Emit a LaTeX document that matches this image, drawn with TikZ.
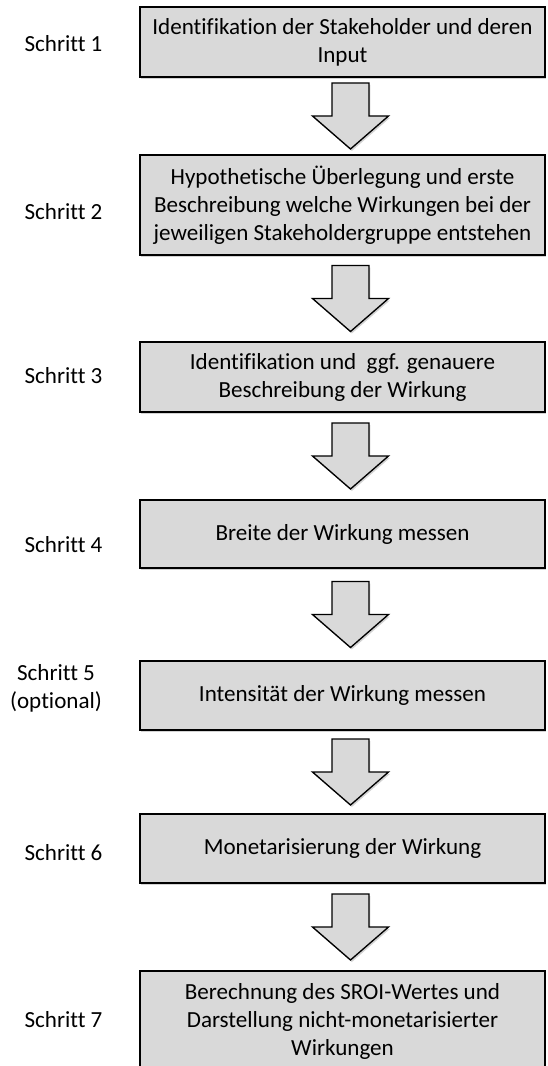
\documentclass[tikz,border=0pt]{standalone}
\usepackage{fontspec}
\setmainfont{Carlito}[Ligatures={NoCommon}]
\usepackage{xcolor}
\usepackage{tikz}
\usetikzlibrary{calc,shadows}
\definecolor{boxgray}{HTML}{D9D9D9}

\tikzset{
  stepbox/.style={draw, fill=boxgray, line width=1pt, minimum width=303.75pt, align=center, inner sep=0pt,
    font=\fontsize{17.3}{21}\selectfont, drop shadow={shadow xshift=1pt, shadow yshift=-1.5pt, opacity=0.35}},
  steplabel/.style={align=center, inner sep=0pt, font=\fontsize{17.3}{21}\selectfont},
  arrowbox/.style={draw, fill=boxgray, line width=1pt, line join=miter, drop shadow={shadow xshift=1pt, shadow yshift=-1.5pt, opacity=0.35}}
}

\begin{document}
\begin{tikzpicture}[x=0.75pt,y=0.75pt,yscale=-1,xscale=1]
\useasboundingbox (0,0) rectangle (547,1066);
\clip (0,0) rectangle (547,1066);
% boxes
\node [stepbox, minimum height=52.5pt] (box1) at (342.5,42) {Identifikation der Stakeholder und deren\\Input};
\node [stepbox, minimum height=75pt] (box2) at (342.5,205) {Hypothetische Überlegung und erste\\Beschreibung welche Wirkungen bei der\\jeweiligen Stakeholdergruppe entstehen};
\node [stepbox, minimum height=52.5pt] (box3) at (342.5,377) {Identifikation und \ ggf. genauere\\Beschreibung der Wirkung};
\node [stepbox, minimum height=51pt] (box4) at (342.5,534) {Breite der Wirkung messen};
\node [stepbox, minimum height=51.75pt] (box5) at (342.5,695.5) {Intensität der Wirkung messen};
\node [stepbox, minimum height=51.75pt] (box6) at (342.5,848.5) {Monetarisierung der Wirkung};
\node [stepbox, minimum height=75pt] (box7) at (342.5,1021) {Berechnung des SROI-Wertes und\\Darstellung nicht-monetarisierter\\Wirkungen};
% labels
\node [steplabel] (lab1) at (63.5,44) {Schritt 1};
\node [steplabel] (lab2) at (63.5,212) {Schritt 2};
\node [steplabel] (lab3) at (63.5,376) {Schritt 3};
\node [steplabel] (lab4) at (63.5,545) {Schritt 4};
\node [steplabel] (lab5) at (56,688) {Schritt 5\\(optional)};
\node [steplabel] (lab6) at (63.5,853) {Schritt 6};
\node [steplabel] (lab7) at (63.5,1020) {Schritt 7};
% block arrows
\foreach \a/\b in {box1/box2,box2/box3,box3/box4,box4/box5,box5/box6,box6/box7} {
  \coordinate (mid) at ($(\a.south)!0.5!(\b.north)+(8,0)$);
  \draw [arrowbox] ($(mid)+(-18.5,-33)$) -- ($(mid)+(18.5,-33)$) -- ($(mid)+(18.5,0)$) -- ($(mid)+(38,0)$)
    -- ($(mid)+(0,33)$) -- ($(mid)+(-38,0)$) -- ($(mid)+(-18.5,0)$) -- cycle;
}
\end{tikzpicture}
\end{document}
